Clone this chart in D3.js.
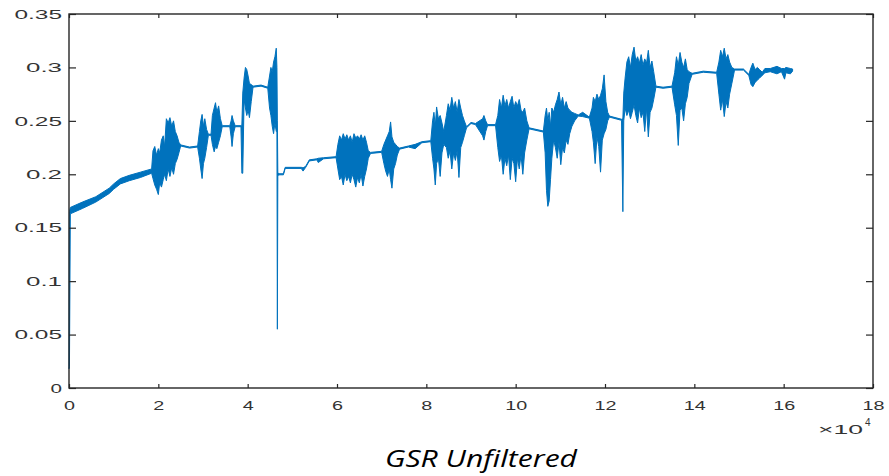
<!DOCTYPE html>
<html>
<head>
<meta charset="utf-8">
<title>GSR Unfiltered</title>
<script src="https://d3js.org/d3.v7.min.js"></script>
<style>
  body { margin: 0; background: #fff; }
  .tick text { fill: #333; }
</style>
</head>
<body>
<script>
// x in units of 10^4 samples; each entry = [x, low, high] of the trace at that point
var xTicks = [0, 2, 4, 6, 8, 10, 12, 14, 16, 18];
var yTicks = [0, 0.05, 0.1, 0.15, 0.2, 0.25, 0.3, 0.35];
var chartTitle = "GSR Unfiltered";

var gsr = [
  [0.00, 0.018, 0.018], [0.01, 0.020, 0.165], [0.03, 0.163, 0.169], [0.3, 0.168, 0.174],
  [0.6, 0.174, 0.179], [0.9, 0.182, 0.187], [1.0, 0.186, 0.191], [1.15, 0.191, 0.196],
  [1.35, 0.194, 0.199], [1.6, 0.197, 0.202], [1.85, 0.201, 0.205],
  // burst 1
  [1.88, 0.196, 0.222], [1.92, 0.190, 0.226], [1.96, 0.186, 0.218], [2.0, 0.181, 0.224],
  [2.03, 0.192, 0.220], [2.07, 0.188, 0.232], [2.11, 0.195, 0.236], [2.14, 0.200, 0.226],
  [2.18, 0.194, 0.252], [2.22, 0.205, 0.248], [2.26, 0.198, 0.253], [2.3, 0.206, 0.245],
  [2.34, 0.200, 0.250], [2.38, 0.210, 0.240], [2.42, 0.214, 0.236], [2.46, 0.220, 0.230],
  [2.5, 0.2265, 0.2275], [2.7, 0.2245, 0.2255], [2.88, 0.2255, 0.2265],
  // bursts 2-4
  [2.92, 0.215, 0.240], [2.95, 0.205, 0.250], [2.98, 0.196, 0.256], [3.01, 0.210, 0.245],
  [3.04, 0.215, 0.252], [3.08, 0.225, 0.242], [3.12, 0.2365, 0.2375], [3.18, 0.2365, 0.2375],
  [3.21, 0.228, 0.255], [3.25, 0.221, 0.262], [3.28, 0.226, 0.267], [3.31, 0.224, 0.258],
  [3.35, 0.230, 0.264], [3.39, 0.236, 0.252], [3.43, 0.2445, 0.2455], [3.6, 0.2445, 0.2455],
  [3.63, 0.235, 0.250], [3.65, 0.226, 0.255], [3.68, 0.238, 0.250], [3.72, 0.2445, 0.2455],
  [3.85, 0.2445, 0.2455], [3.87, 0.201, 0.246], [3.89, 0.201, 0.276],
  // bursts 5-6 and the deep drop
  [3.92, 0.270, 0.290], [3.95, 0.262, 0.300], [3.98, 0.255, 0.298], [4.01, 0.260, 0.292],
  [4.04, 0.253, 0.285], [4.08, 0.268, 0.284], [4.12, 0.2815, 0.2825], [4.3, 0.2825, 0.2835],
  [4.45, 0.2805, 0.2815], [4.49, 0.262, 0.292], [4.52, 0.255, 0.300], [4.55, 0.245, 0.296],
  [4.58, 0.238, 0.305], [4.61, 0.248, 0.310], [4.64, 0.240, 0.318], [4.655, 0.240, 0.300],
  [4.665, 0.055, 0.250], [4.675, 0.199, 0.201],
  [4.72, 0.1995, 0.2005], [4.8, 0.1995, 0.2005], [4.84, 0.2055, 0.2065], [5.2, 0.2055, 0.2065],
  [5.24, 0.203, 0.206], [5.3, 0.2065, 0.2075], [5.38, 0.2125, 0.2135], [5.55, 0.2135, 0.2145],
  [5.58, 0.211, 0.215], [5.7, 0.2145, 0.2155], [5.98, 0.2155, 0.2165],
  // burst 7
  [6.02, 0.205, 0.228], [6.06, 0.195, 0.236], [6.1, 0.198, 0.232], [6.14, 0.190, 0.238],
  [6.18, 0.200, 0.233], [6.22, 0.194, 0.237], [6.26, 0.198, 0.232], [6.3, 0.192, 0.236],
  [6.34, 0.200, 0.230], [6.38, 0.195, 0.238], [6.42, 0.188, 0.234], [6.46, 0.197, 0.236],
  [6.5, 0.192, 0.233], [6.54, 0.200, 0.237], [6.58, 0.189, 0.232], [6.62, 0.198, 0.236],
  [6.66, 0.205, 0.230], [6.7, 0.215, 0.222], [6.75, 0.2195, 0.2205], [7.0, 0.2205, 0.2215],
  // burst 8
  [7.05, 0.210, 0.228], [7.09, 0.203, 0.232], [7.13, 0.198, 0.236], [7.17, 0.205, 0.240],
  [7.2, 0.195, 0.249], [7.23, 0.187, 0.235], [7.27, 0.205, 0.230], [7.31, 0.210, 0.228],
  [7.35, 0.218, 0.226], [7.4, 0.2235, 0.2245], [7.6, 0.2255, 0.2265], [7.75, 0.224, 0.228],
  [7.9, 0.2295, 0.2305], [8.1, 0.2305, 0.2315],
  // bursts 9-10
  [8.14, 0.215, 0.250], [8.17, 0.205, 0.258], [8.2, 0.190, 0.245], [8.23, 0.210, 0.263],
  [8.27, 0.215, 0.252], [8.31, 0.198, 0.255], [8.35, 0.220, 0.248], [8.39, 0.228, 0.240],
  [8.45, 0.225, 0.255], [8.49, 0.215, 0.266], [8.53, 0.222, 0.260], [8.57, 0.205, 0.272],
  [8.61, 0.220, 0.262], [8.65, 0.213, 0.268], [8.69, 0.222, 0.258], [8.73, 0.197, 0.270],
  [8.77, 0.225, 0.262], [8.81, 0.230, 0.255], [8.85, 0.236, 0.250], [8.9, 0.2435, 0.2445],
  [9.0, 0.2475, 0.2485], [9.1, 0.2465, 0.2475], [9.26, 0.236, 0.252], [9.29, 0.232, 0.255],
  [9.33, 0.240, 0.250], [9.37, 0.2455, 0.2465], [9.55, 0.2455, 0.2465],
  // burst 11
  [9.6, 0.225, 0.255], [9.64, 0.212, 0.270], [9.68, 0.218, 0.262], [9.72, 0.200, 0.274],
  [9.76, 0.215, 0.264], [9.8, 0.208, 0.270], [9.84, 0.218, 0.262], [9.88, 0.195, 0.268],
  [9.92, 0.215, 0.273], [9.96, 0.210, 0.262], [10.0, 0.193, 0.268], [10.04, 0.215, 0.264],
  [10.08, 0.205, 0.270], [10.12, 0.218, 0.260], [10.16, 0.200, 0.258], [10.2, 0.220, 0.262],
  [10.25, 0.232, 0.250], [10.3, 0.2425, 0.2435], [10.62, 0.2395, 0.2405],
  // bursts 12-13
  [10.66, 0.220, 0.255], [10.69, 0.185, 0.262], [10.72, 0.170, 0.250], [10.75, 0.175, 0.258],
  [10.78, 0.195, 0.245], [10.81, 0.215, 0.262], [10.85, 0.232, 0.258], [10.89, 0.225, 0.265],
  [10.93, 0.215, 0.270], [10.97, 0.230, 0.277], [11.01, 0.209, 0.265], [11.05, 0.225, 0.272],
  [11.09, 0.220, 0.262], [11.13, 0.232, 0.268], [11.17, 0.228, 0.262], [11.21, 0.238, 0.260],
  [11.26, 0.245, 0.258], [11.32, 0.250, 0.257], [11.4, 0.2545, 0.2555], [11.5, 0.254, 0.258],
  [11.65, 0.2525, 0.2535],
  // burst 14 and drop
  [11.71, 0.240, 0.262], [11.74, 0.230, 0.272], [11.78, 0.210, 0.268], [11.82, 0.235, 0.275],
  [11.86, 0.226, 0.270], [11.9, 0.202, 0.274], [11.94, 0.232, 0.280], [11.98, 0.238, 0.293],
  [12.02, 0.242, 0.268], [12.06, 0.250, 0.258], [12.1, 0.2535, 0.2545], [12.37, 0.2505, 0.2515],
  [12.4, 0.165, 0.252], [12.42, 0.250, 0.276],
  // burst 15
  [12.45, 0.262, 0.290], [12.49, 0.255, 0.305], [12.53, 0.260, 0.310], [12.57, 0.252, 0.300],
  [12.61, 0.258, 0.312], [12.65, 0.265, 0.319], [12.69, 0.255, 0.306], [12.73, 0.248, 0.310],
  [12.77, 0.262, 0.304], [12.81, 0.253, 0.312], [12.85, 0.258, 0.302], [12.89, 0.240, 0.308],
  [12.93, 0.262, 0.304], [12.97, 0.235, 0.316], [13.01, 0.258, 0.300], [13.05, 0.262, 0.306],
  [13.09, 0.270, 0.296], [13.14, 0.2815, 0.2825], [13.3, 0.2805, 0.2815], [13.5, 0.2815, 0.2825],
  // burst 16
  [13.56, 0.265, 0.295], [13.6, 0.255, 0.310], [13.64, 0.227, 0.302], [13.68, 0.260, 0.314],
  [13.72, 0.262, 0.305], [13.76, 0.250, 0.300], [13.8, 0.266, 0.308], [13.84, 0.272, 0.298],
  [13.88, 0.285, 0.296], [13.95, 0.2935, 0.2945], [14.2, 0.2955, 0.2965], [14.5, 0.2945, 0.2955],
  // burst 17
  [14.55, 0.275, 0.305], [14.59, 0.260, 0.316], [14.63, 0.270, 0.310], [14.67, 0.254, 0.318],
  [14.71, 0.268, 0.308], [14.75, 0.262, 0.312], [14.79, 0.275, 0.305], [14.84, 0.285, 0.300],
  [14.9, 0.2975, 0.2985], [15.1, 0.2975, 0.2985], [15.22, 0.2925, 0.2935],
  // burst 18 and tail
  [15.27, 0.284, 0.300], [15.31, 0.282, 0.304], [15.36, 0.286, 0.298], [15.41, 0.288, 0.300],
  [15.46, 0.290, 0.298], [15.52, 0.2925, 0.2955], [15.58, 0.295, 0.299], [15.7, 0.296, 0.299],
  [15.85, 0.294, 0.301], [15.95, 0.296, 0.299], [16.02, 0.289, 0.299], [16.05, 0.295, 0.300],
  [16.15, 0.294, 0.299], [16.2, 0.2965, 0.2985]
];

var width = 889, height = 476;
var plot = {left: 69, right: 873, top: 14, bottom: 388};
var lineColor = "#0072BD", axisColor = "#262626";

var svg = d3.select("body").append("svg")
    .attr("width", width)
    .attr("height", height);

var xScale = d3.scaleLinear().domain([0, 18]).range([plot.left, plot.right]);
var yScale = d3.scaleLinear().domain([0, 0.35]).range([plot.bottom, plot.top]);

// the trace (dense samples drawn as low/high envelope)
var trace = d3.area()
    .x(function(d) { return xScale(d[0]); })
    .y0(function(d) { return yScale(d[1]); })
    .y1(function(d) { return yScale(d[2]); });

svg.append("path")
    .datum(gsr)
    .attr("d", trace)
    .attr("fill", lineColor)
    .attr("stroke", lineColor)
    .attr("stroke-width", 1)
    .attr("stroke-linejoin", "round");

// text is drawn wide like the reference
function stretch(sel, digitW, dotW) {
  sel.attr("textLength", function(d) {
      var s = d3.select(this).text();
      var n = s.replace(/[^0-9]/g, "").length, p = s.length - n;
      return n * digitW + p * dotW;
    })
    .attr("lengthAdjust", "spacingAndGlyphs");
}

var xAxis = svg.append("g")
    .attr("transform", "translate(0," + plot.bottom + ")")
    .call(d3.axisBottom(xScale).tickValues(xTicks).tickSizeInner(-4).tickSizeOuter(0)
      .tickPadding(13).tickFormat(d3.format("d")));
xAxis.selectAll("text").style("font", "13px 'Liberation Sans', Arial, sans-serif").call(stretch, 11, 11);

var yAxis = svg.append("g")
    .attr("transform", "translate(" + plot.left + ",0)")
    .call(d3.axisLeft(yScale).tickValues(yTicks).tickSizeInner(-7).tickSizeOuter(0)
      .tickPadding(7).tickFormat(function(d) { return String(+d.toFixed(2)); }));
yAxis.selectAll("text").style("font", "13px 'Liberation Sans', Arial, sans-serif").call(stretch, 11.5, 13);

svg.append("g")
    .attr("transform", "translate(0," + plot.top + ")")
    .call(d3.axisTop(xScale).tickValues(xTicks).tickSizeInner(-4).tickSizeOuter(0).tickFormat(""));

svg.append("g")
    .attr("transform", "translate(" + plot.right + ",0)")
    .call(d3.axisRight(yScale).tickValues(yTicks).tickSizeInner(-7).tickSizeOuter(0).tickFormat(""));

svg.selectAll(".domain").remove();
svg.selectAll(".tick line").attr("stroke", axisColor).attr("stroke-width", 1.2);

svg.append("rect")
    .attr("x", plot.left).attr("y", plot.top)
    .attr("width", plot.right - plot.left).attr("height", plot.bottom - plot.top)
    .attr("fill", "none").attr("stroke", axisColor).attr("stroke-width", 1.4);

// exponent label
var expo = svg.append("text")
    .attr("x", 818).attr("y", 434)
    .attr("fill", "#333")
    .style("font", "13px 'Liberation Sans', Arial, sans-serif");
expo.append("tspan").text("\u00d710").attr("textLength", 45).attr("lengthAdjust", "spacingAndGlyphs");
expo.append("tspan").text("4").attr("x", 865).attr("y", 426).style("font-size", "10px");

svg.append("text")
    .attr("x", 481).attr("y", 467)
    .attr("text-anchor", "middle")
    .attr("textLength", 192).attr("lengthAdjust", "spacingAndGlyphs")
    .style("font", "italic 24px 'Open Sans', sans-serif")
    .attr("fill", "#000")
    .text(chartTitle);
</script>
</body>
</html>
